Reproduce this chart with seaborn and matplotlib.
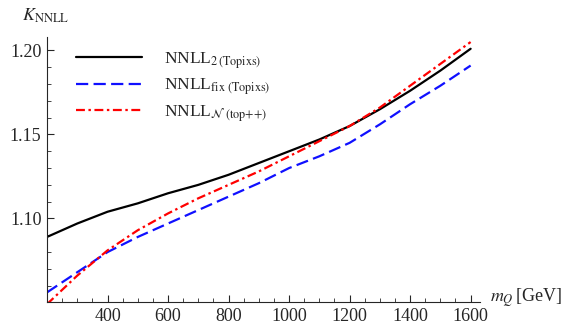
import numpy as np
import pandas as pd
import matplotlib
matplotlib.use("Agg")
import matplotlib.pyplot as plt
from matplotlib.ticker import MultipleLocator, FixedLocator
import seaborn as sns

# top-quark mass points [GeV]
mass = [200, 300, 400, 500, 600, 700, 800, 900, 1000, 1100, 1200, 1300, 1400, 1500, 1600]
k_nnll2 = [1.089, 1.097, 1.104, 1.109, 1.115, 1.120, 1.126, 1.133, 1.140, 1.147, 1.155, 1.165, 1.176, 1.188, 1.201]
k_fix = [1.056, 1.068, 1.080, 1.089, 1.097, 1.105, 1.113, 1.121, 1.130, 1.137, 1.145, 1.156, 1.168, 1.179, 1.191]
k_topnn = [1.049, 1.066, 1.081, 1.093, 1.103, 1.112, 1.120, 1.128, 1.137, 1.146, 1.155, 1.166, 1.179, 1.192, 1.205]

labels = [r'NNLL$_{2\,\mathrm{(Topixs)}}$',
          r'NNLL$_{\mathrm{fix}\ \mathrm{(Topixs)}}$',
          r'NNLL$_{\mathcal{N}\ \mathrm{(top{+}{+})}}$']

sns.set_style("ticks")
plt.rcParams['font.family'] = ['Liberation Serif', 'DejaVu Serif']
plt.rcParams['mathtext.fontset'] = 'stix'

fig = plt.figure(figsize=(5.69, 3.24), dpi=100)
ax = fig.add_axes([0.0826, 0.0664, 0.761, 0.8194])

sns.lineplot(x=mass, y=k_nnll2, color='black', lw=1.6, ax=ax, label=labels[0])
sns.lineplot(x=mass, y=k_fix, color='#1010ff', lw=1.6, ax=ax, label=labels[1],
             linestyle=(0, (5.5, 2.4)))
sns.lineplot(x=mass, y=k_topnn, color='#ff0000', lw=1.6, ax=ax, label=labels[2],
             linestyle=(0, (4.0, 1.6, 1.1, 1.6)))

ax.set_xlim(200, 1631)
ax.set_ylim(1.05, 1.208)
ax.xaxis.set_major_locator(FixedLocator([400, 600, 800, 1000, 1200, 1400, 1600]))
ax.xaxis.set_minor_locator(MultipleLocator(50))
ax.yaxis.set_major_locator(FixedLocator([1.10, 1.15, 1.20]))
ax.yaxis.set_minor_locator(MultipleLocator(0.01))
ax.yaxis.set_major_formatter(matplotlib.ticker.FormatStrFormatter('%.2f'))
ax.tick_params(which='major', direction='in', length=5, width=0.8, labelsize=13, pad=4)
ax.tick_params(which='minor', direction='in', length=3, width=0.6)
for s in ['top', 'right']:
    ax.spines[s].set_visible(False)
for s in ['left', 'bottom']:
    ax.spines[s].set_linewidth(0.8)
ax.set_xlabel('')
ax.set_ylabel('')

leg = ax.legend(loc='upper left', bbox_to_anchor=(0.03, 1.01), frameon=False,
                handlelength=3.85, handletextpad=1.25, labelspacing=0.34, fontsize=12.5)

fig.text(0.038, 0.95, r'$K_{\mathrm{NNLL}}$', fontsize=13, va='center', ha='left')
fig.text(0.862, 0.08, r'$m_Q\,$[GeV]', fontsize=13, va='center', ha='left')

fig.savefig("out.png", dpi=100)
